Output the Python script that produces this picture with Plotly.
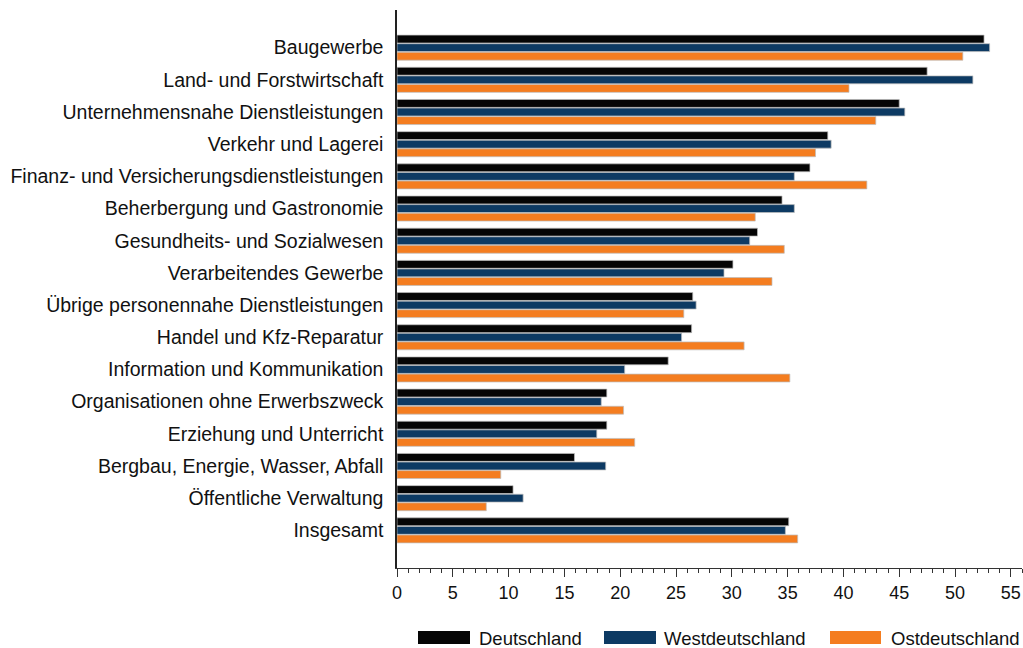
import plotly.graph_objects as go

# Data (values in %).
categories = [
    "Baugewerbe",
    "Land- und Forstwirtschaft",
    "Unternehmensnahe Dienstleistungen",
    "Verkehr und Lagerei",
    "Finanz- und Versicherungsdienstleistungen",
    "Beherbergung und Gastronomie",
    "Gesundheits- und Sozialwesen",
    "Verarbeitendes Gewerbe",
    "Übrige personennahe Dienstleistungen",
    "Handel und Kfz-Reparatur",
    "Information und Kommunikation",
    "Organisationen ohne Erwerbszweck",
    "Erziehung und Unterricht",
    "Bergbau, Energie, Wasser, Abfall",
    "Öffentliche Verwaltung",
    "Insgesamt",
]
deutschland = [52.6, 47.5, 45.0, 38.6, 37.0, 34.5, 32.3, 30.1, 26.5, 26.4,
               24.3, 18.8, 18.8, 15.9, 10.4, 35.1]
westdeutschland = [53.1, 51.6, 45.5, 38.9, 35.6, 35.6, 31.6, 29.3, 26.8, 25.5,
                   20.4, 18.3, 17.9, 18.7, 11.3, 34.8]
ostdeutschland = [50.7, 40.5, 42.9, 37.5, 42.1, 32.1, 34.7, 33.6, 25.7, 31.1,
                  35.2, 20.3, 21.3, 9.3, 8.0, 35.9]

series_names = ["Deutschland", "Westdeutschland", "Ostdeutschland"]
series_values = [deutschland, westdeutschland, ostdeutschland]
COLORS = ["#050505", "#0d3a63", "#f47d20"]

W, H = 1023, 648
PLOT_L, PLOT_R, PLOT_T, PLOT_B = 397, 1022, 10, 568   # in window pixels
FONT = "Liberation Sans, Arial, sans-serif"
TXT = "#111111"

fig = go.Figure()
for name, vals, col in zip(series_names, series_values, COLORS):
    fig.add_trace(go.Bar(
        y=categories, x=vals, orientation="h", name=name,
        marker=dict(color=col, line=dict(color="rgba(190,190,190,0.9)", width=0.8)),
        showlegend=False,
    ))

fig.update_layout(
    width=W, height=H,
    margin=dict(l=PLOT_L, r=W - PLOT_R, t=PLOT_T, b=H - PLOT_B, autoexpand=False),
    barmode="group", bargap=0.2, bargroupgap=0.08,
    plot_bgcolor="white", paper_bgcolor="white",
    font=dict(family=FONT, size=18, color=TXT),
)
fig.update_xaxes(
    range=[0, 56], dtick=5, tick0=0,
    showgrid=False, zeroline=False,
    showline=True, linecolor="#333333", linewidth=1,
    ticks="outside", ticklen=8, tickcolor="#333333",
    minor=dict(dtick=1, ticks="outside", ticklen=4, tickcolor="#333333"),
    tickfont=dict(size=18, color=TXT),
    ticklabeloverflow="allow",
)
fig.update_yaxes(
    type="category", range=[16.17, -1.17],
    showgrid=False, zeroline=False,
    showline=True, linecolor="#222222", linewidth=1.5,
    ticks="", ticklabelstandoff=8,
    tickfont=dict(size=19.5, color=TXT),
)

# Custom legend with wide swatches, drawn below the axis.
plot_w = PLOT_R - PLOT_L
plot_h = PLOT_B - PLOT_T


def px_x(px):
    return (px - PLOT_L) / plot_w


def px_y(py):
    return (PLOT_B - py) / plot_h


legend_pos = [(418, 470, 477), (604, 656, 662), (830, 881, 889)]
for name, col, (x0, x1, tx) in zip(series_names, COLORS, legend_pos):
    fig.add_shape(type="rect", xref="paper", yref="paper",
                  x0=px_x(x0), x1=px_x(x1), y0=px_y(644), y1=px_y(631),
                  fillcolor=col, line=dict(width=0))
    fig.add_annotation(xref="paper", yref="paper", x=px_x(tx), y=px_y(638),
                       text=name, showarrow=False, xanchor="left", yanchor="middle",
                       font=dict(size=18.5, color=TXT, family=FONT))

# Drop the default 8px page margin so the figure sits at the window origin.
fig.write_html(
    "out.html",
    config={"displayModeBar": False},
    post_script="document.body.style.margin='0';document.body.style.overflow='hidden';",
)
